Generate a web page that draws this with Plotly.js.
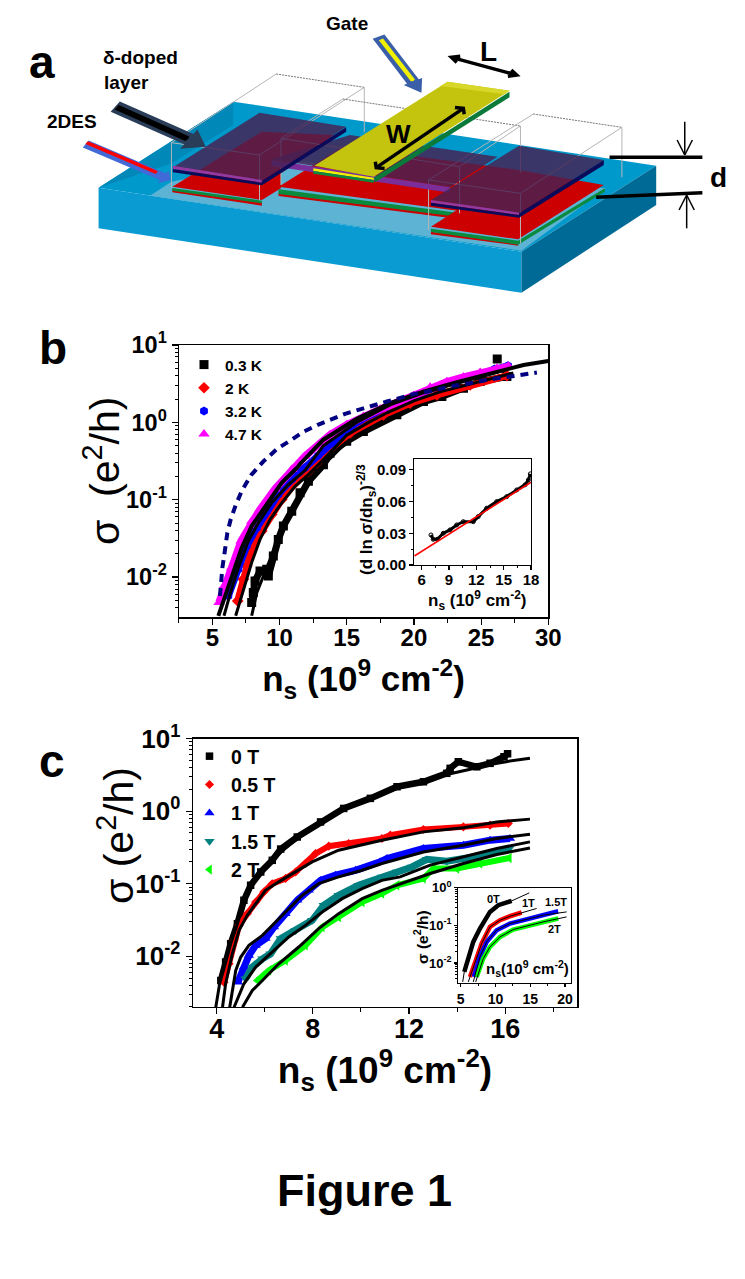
<!DOCTYPE html>
<html><head><meta charset="utf-8">
<script src="https://cdn.plot.ly/plotly-3.0.1.min.js"></script>
<style>html,body{margin:0;padding:0;background:#fff}</style></head>
<body><div id="chart" style="width:745px;height:1279px"></div>
<script>
/* ---------- panel b: temperature series ---------- */
const b03K_n=[7.93,8.05,8.18,8.55,9.05,9.17,9.54,9.91,10.29,10.91,11.53,12.15,13.27,13.76,15,16.24,18.73,20.71,22.08,23.69,24.93,26.92];
const b03K_s=[.00469,.0063,.0089,.012,.0126,.0103,.0187,.0307,.0456,.071,.123,.173,.284,.40,.57,.76,1.25,1.86,2.16,2.77,3.37,3.91];
const b03K_outlier_n=[26.2], b03K_outlier_s=[6.6];
const b2K_n=[6.89,7.31,7.56,7.93,8.68,9.42,10.17,11.16,12.15,12.77,13.27,14,15.26,17.73,19.72,21.71,24.19,26.92];
const b2K_s=[.00492,.00938,.0139,.0228,.0393,.0644,.1007,.165,.233,.298,.39,.5,.728,1.25,1.77,2.27,3.05,4.02];
const b32K_n=[6.19,6.94,7.56,8.31,9.05,9.91,10.91,11.9,12.89,14,15,16,17,18,20,22,24,26,27];
const b32K_s=[.0057,.0126,.0252,.0432,.071,.117,.182,.258,.372,.55,.80,1.06,1.31,1.6,2.2,3.0,3.8,4.9,5.4];
const b47K_n=[5.5,5.9,6.44,7.14,7.93,8.55,9.67,10.91,11.9,12.89,13.76,15,16.24,17.49,18.73,19.97,21.21,22.45,23.69,24.93,26.18,27.04];
const b47K_s=[.0047,.0077,.0132,.0292,.0528,.0748,.138,.245,.364,.514,.69,.93,1.19,1.48,1.8,2.2,2.85,3.35,3.85,4.4,5.0,5.3];
const bFit1_n=[5.45,5.95,6.44,7.19,7.93,8.92,10.16,11.4,11.53,13.27,15.75,18.23,20.7,23.2,26.9,28.16,30];
const bFit1_s=[.00316,.0057,.0103,.024,.0456,.0824,.165,.27,.29,.597,1.11,1.77,2.5,3.3,4.9,5.52,6.2];
const bFit2_n=[5.87,6.32,6.94,7.68,8.43,9.42,10.66,11.9,13.27,15.75,18.23,20.7,23.2,26.9];
const bFit2_s=[.00316,.006,.0132,.0292,.0503,.0912,.157,.24,.50,1.0,1.68,2.4,3.2,4.8];
const bFit3_n=[6.74,7.43,7.93,8.55,9.3,10.17,11.16,12.15,13.27,15,16.5,18,20,22,24,26,27.4];
const bFit3_s=[.00316,.00767,.0154,.0307,.0556,.0912,.149,.211,.33,.68,.97,1.33,1.9,2.5,3.05,3.7,4.35];
const bFit4_n=[7.93,8.31,9.3,10.17,11.16,12.15,13.27,15];
const bFit4_s=[.00316,.0063,.017,.0413,.0912,.17,.28,.56];
const bDash_n=[5.57,5.75,5.95,6.12,6.37,6.74,7.21,7.88,8.8,9.84,10.79,11.83,12.85,13.89,14.88,15.87,16.94,17.99,18.98,19.97,21.01,22.08,23.07,24.14,25.13,26.18,27.17,28.16,29.15];
const bDash_s=[.0057,.0132,.0228,.0374,.0556,.085,.132,.207,.313,.457,.58,.764,.93,1.11,1.29,1.45,1.67,1.86,2.07,2.32,2.5,2.77,2.99,3.2,3.47,3.72,3.91,4.19,4.4];
/* panel b inset */
const bIn_n=[7.02,7.27,7.71,8.37,9.11,9.84,10.57,11.67,12.21,13.13,14.23,15.33,16.43,17.34,17.71,17.93];
const bIn_v=[.0284,.0243,.0243,.03,.0332,.0379,.041,.041,.0458,.0537,.06,.0647,.071,.0758,.0805,.0862];
const bInFit_n=[5.19,7.5,9,10.5,12,13.5,15,16.5,18];
const bInFit_v=[.0085,.0211,.0293,.0375,.0456,.054,.062,.0702,.0783];
/* ---------- panel c: field series ---------- */
const c0T_n=[4.17,4.37,4.58,4.86,5.13,5.41,5.83,6.31,6.66,7.35,8.32,9.28,10.39,11.5,12.6,13.57,13.71,14.05,14.82,15.37,15.95,16.1];
const c0T_s=[.00463,.0083,.0149,.0281,.059,.095,.145,.21,.30,.44,.71,1.09,1.5,2.17,2.54,3.32,3.89,4.8,4.09,4.56,5.62,6.2];
const c0TFit_n=[3.96,4.12,4.37,4.58,4.86,5.13,5.41,5.83,6.31,6.66,7.35,8.32,9.28,10.39,11.5,12.6,13.57,14.5,15.37,16.1,17.03];
const c0TFit_s=[.00198,.00417,.0082,.0148,.028,.056,.092,.147,.205,.27,.42,.69,1.04,1.48,2.07,2.6,3.2,3.75,4.4,4.85,5.35];
const c05T_n=[4.3,4.51,4.72,4.93,5.27,5.62,5.96,6.31,6.86,7.28,7.69,8.11,8.66,9.49,10.87,11.22,12.6,14.26,15.37,16.13];
const c05T_s=[.00439,.00787,.0165,.0266,.0386,.0559,.0768,.1,.118,.145,.19,.26,.329,.358,.42,.467,.559,.607,.641,.676];
const c05TFit_n=[4.24,4.37,4.65,4.93,5.27,5.62,6.03,6.58,7.28,7.97,9.07,10.87,12.6,14.26,15.65,17.03];
const c05TFit_s=[.00198,.00417,.0108,.0227,.0366,.0531,.081,.106,.145,.2,.289,.398,.518,.59,.71,.776];
const c1T_n=[4.88,5.13,5.34,5.62,6.03,6.38,6.86,7.35,7.83,8.32,8.94,9.77,10.8,11.08,12.6,14.26,15.37,16.2];
const c1T_s=[.00439,.00708,.01026,.0141,.0175,.0252,.0386,.059,.081,.111,.131,.153,.2,.222,.305,.339,.398,.42];
const c1TFit_n=[4.54,4.79,5,5.34,5.9,6.45,7,7.56,8.24,9.07,10.05,10.87,12.6,14.26,15.65,17.03];
const c1TFit_s=[.00198,.00637,.00973,.0141,.0194,.0296,.0453,.0692,.1,.124,.153,.19,.274,.339,.42,.481];
const c15T_n=[5.2,5.48,5.9,6.24,6.66,7.28,7.97,8.45,9.07,9.9,10.87,11.5,12.12,12.74,13.57,14.68,15.51,16.17];
const c15T_s=[.00489,.00708,.00923,.0108,.0175,.0227,.0313,.0503,.0692,.095,.124,.145,.17,.217,.204,.234,.269,.305];
const c15TFit_n=[4.72,5.13,5.62,6.31,7,7.69,8.39,9.22,10.05,10.87,11.63,12.88,14.26,15.65,17.03];
const c15TFit_s=[.00198,.00417,.00708,.0114,.0184,.0266,.0406,.0622,.0855,.111,.124,.18,.234,.305,.377];
const c2T_n=[5.69,6.17,6.86,7.69,8.39,9.07,10.05,10.87,11.5,12.6,13.02,13.99,14.95,16.17];
const c2T_s=[.00463,.00637,.00875,.0141,.0252,.0347,.0559,.073,.095,.118,.162,.162,.19,.226];
const c2TFit_n=[5.07,5.48,5.9,6.58,7.41,8.24,9.07,10.05,10.87,11.63,12.88,14.26,15.65,17.03];
const c2TFit_s=[.00198,.00337,.00463,.00787,.0134,.024,.0386,.0622,.081,.1,.138,.19,.252,.311];
/* panel c inset */
const cI0_n=[5.52,6.09,6.81,7.77,9.21,10.4,12.33];
const cI0_s=[.00585,.0132,.0365,.0828,.228,.344,.447];
const cI0Fit_n=[5.29,5.52,6.09,6.81,7.77,9.21,10.4,12.33,14.86];
const cI0Fit_s=[.00316,.00585,.0132,.0365,.0828,.228,.344,.447,.728];
const cI1_n=[6.34,7.05,8.02,9.21,10.65,12.08,13.77];
const cI1_s=[.0043,.0108,.0331,.0912,.137,.175,.22];
const cI1Fit_n=[6.09,6.34,7.05,8.02,9.21,10.65,12.08,13.77,15.92];
const cI1Fit_s=[.00316,.0043,.0108,.0331,.0912,.137,.175,.22,.281];
const cI15_n=[6.9,7.77,8.74,10.17,12.08,14.48,16.87,19.02];
const cI15_s=[.0043,.0146,.0365,.0746,.112,.143,.187,.238];
const cI15Fit_n=[6.81,7.77,8.74,10.17,12.08,14.48,16.87,20.23];
const cI15Fit_s=[.00316,.0146,.0365,.0746,.112,.143,.187,.228];
const cI2_n=[7.3,8.25,9.21,10.65,12.56,14.48,16.87,19.02];
const cI2_s=[.0043,.0132,.0269,.0495,.0778,.0953,.124,.152];
const cI2Fit_n=[7.16,8.25,9.21,10.65,12.56,14.48,16.87,20.23];
const cI2Fit_s=[.00316,.0132,.0269,.0495,.0778,.0953,.124,.168];
/* ticks and labels */
const decLabel={0.01:'10<sup>-2</sup>',0.1:'10<sup>-1</sup>',1:'10<sup>0</sup>',10:'10<sup>1</sup>'};
const bXticks=[5,10,15,20,25,30], bXminor=[2.5,7.5,12.5,17.5,22.5,27.5];
const bInXticks=[6,9,12,15,18], bInYticks=[0,.03,.06,.09], bInYlabels=['0.00','0.03','0.06','0.09'];
const cXticks=[4,8,12,16], cXminor=[6,10,14,18];
const cInXticks=[5,10,15,20], cInXminor=[7.5,12.5,17.5];

const W=745,H=1279;
const fx=p=>p/W, fy=p=>1-p/H;
const FONT='"Liberation Sans", Arial, sans-serif';
const logMinor=(lo,hi)=>{const o=[];for(let e=-3;e<1;e++)for(let m=2;m<10;m++){const v=m*Math.pow(10,e);if(v>=lo&&v<=hi)o.push(v);}return o;};

const traces=[];
function series(name,xs,ys,color,symbol,size,band,xa,ya,lg,extraX,extraY){
  traces.push({x:xs,y:ys,xaxis:xa,yaxis:ya,mode:'lines',line:{color:color,width:band},showlegend:false,hoverinfo:'skip'});
  traces.push({x:xs.concat(extraX||[]),y:ys.concat(extraY||[]),xaxis:xa,yaxis:ya,mode:'markers',name:name,legend:lg,legendgroup:lg+name,
    marker:{color:color,symbol:symbol,size:size},showlegend:!!lg});
}
function fit(xs,ys,xa,ya,w,color){
  traces.push({x:xs,y:ys,xaxis:xa,yaxis:ya,mode:'lines',line:{color:color||'#000',width:w},showlegend:false,hoverinfo:'skip'});
}
/* panel b */
series('0.3 K',b03K_n,b03K_s,'#000','square',9,7,'x','y','legend',b03K_outlier_n,b03K_outlier_s);
series('2 K',b2K_n,b2K_s,'#ff0000','diamond',9,7,'x','y','legend');
series('3.2 K',b32K_n,b32K_s,'#0000ff','hexagon',9,7,'x','y','legend');
series('4.7 K',b47K_n,b47K_s,'#ff00ff','triangle-up',10,7.5,'x','y','legend');
fit(bFit4_n,bFit4_s,'x','y',3);
fit(bFit3_n,bFit3_s,'x','y',3);
fit(bFit2_n,bFit2_s,'x','y',3);
fit(bFit1_n,bFit1_s,'x','y',4);
traces.push({x:bDash_n,y:bDash_s,xaxis:'x',yaxis:'y',mode:'lines',line:{color:'#000080',width:4,dash:'8px,6px'},showlegend:false});
/* panel b inset */
traces.push({x:bIn_n,y:bIn_v,xaxis:'x2',yaxis:'y2',mode:'lines+markers',line:{color:'#000',width:3},marker:{symbol:'circle-open',color:'#000',size:4},showlegend:false});
traces.push({x:bInFit_n,y:bInFit_v,xaxis:'x2',yaxis:'y2',mode:'lines',line:{color:'#ff0000',width:1.6},showlegend:false});
/* panel c */
series('0 T',c0T_n,c0T_s,'#000','square',7.5,6.5,'x3','y3','legend2');
series('0.5 T',c05T_n,c05T_s,'#ff0000','diamond',7,6,'x3','y3','legend2');
series('1 T',c1T_n,c1T_s,'#0000ff','triangle-up',9,7,'x3','y3','legend2');
series('1.5 T',c15T_n,c15T_s,'#008080','triangle-down',9,7,'x3','y3','legend2');
series('2 T',c2T_n,c2T_s,'#00ff00','triangle-left',9,6,'x3','y3','legend2');
fit(c0TFit_n,c0TFit_s,'x3','y3',3);fit(c05TFit_n,c05TFit_s,'x3','y3',3);fit(c1TFit_n,c1TFit_s,'x3','y3',3);fit(c15TFit_n,c15TFit_s,'x3','y3',3);fit(c2TFit_n,c2TFit_s,'x3','y3',3);
/* panel c inset */
[[cI0_n,cI0_s,'#000'],[cI1_n,cI1_s,'#ff0000'],[cI15_n,cI15_s,'#0000ff'],[cI2_n,cI2_s,'#00ff00']].forEach(a=>{
  traces.push({x:a[0],y:a[1],xaxis:'x4',yaxis:'y4',mode:'lines',line:{color:a[2],width:4.5},showlegend:false});
});
fit(cI0Fit_n,cI0Fit_s,'x4','y4',1);fit(cI1Fit_n,cI1Fit_s,'x4','y4',1);fit(cI15Fit_n,cI15Fit_s,'x4','y4',1);fit(cI2Fit_n,cI2Fit_s,'x4','y4',1);
traces.push({x:[],y:[],xaxis:'x5',yaxis:'y5',showlegend:false});

function axis(dom,anchor,o){
  return Object.assign({domain:dom,anchor:anchor,showline:true,mirror:true,linecolor:'#000',linewidth:1.2,showgrid:false,zeroline:false,
    ticks:'outside',ticklen:6,tickwidth:1.2,tickcolor:'#000',tickmode:'array',tickangle:0},o);
}
function minor(vals,len){return {tickmode:'array',tickvals:vals,ticks:'outside',ticklen:len,tickwidth:1,tickcolor:'#000',showgrid:false};}
const dec=[0.01,0.1,1,10], decTxt=dec.map(v=>decLabel[v]);
const xT=t=>t.map(String);

/* schematic (panel a) drawn in its own hidden axes */
const poly=(pts,fill,opts)=>Object.assign({type:'path',xref:'x5',yref:'y5',path:'M'+pts.map(p=>p.join(',')).join('L')+'Z',fillcolor:fill,line:{width:0}},opts||{});
const seg=(a,b,color,w,dash)=>({type:'line',xref:'x5',yref:'y5',x0:a[0],y0:a[1],x1:b[0],y1:b[1],line:{color:color,width:w,dash:dash||'solid'}});
const PUR='rgba(71,34,83,0.83)', GR='#b5b5b5';
function box(x0,y0,x1,y1,x2,y2,x3,y3,h){
  return [seg([x0,y0],[x1,y1],GR,1),seg([x1,y1],[x2,y2],'#777',1,'2px,1px'),seg([x2,y2],[x3,y3],GR,1),seg([x3,y3],[x0,y0],GR,1),
    seg([x0,y0],[x0,y0+h],GR,1),seg([x3,y3],[x3,y3+h],GR,1),seg([x2,y2],[x2,y2+h],GR,1)];
}
function arrow(a,b,w,hw,hl,c){
  const dx=b[0]-a[0],dy=b[1]-a[1],L=Math.hypot(dx,dy),ux=dx/L,uy=dy/L,nx=-uy,ny=ux,
    s=[b[0]-ux*hl,b[1]-uy*hl];
  return poly([[a[0]+nx*w,a[1]+ny*w],[s[0]+nx*w,s[1]+ny*w],[s[0]+nx*hw,s[1]+ny*hw],b,[s[0]-nx*hw,s[1]-ny*hw],[s[0]-nx*w,s[1]-ny*w],[a[0]-nx*w,a[1]-ny*w]],c);
}
function dbl(a,b,lw,hw,hl){
  const dx=b[0]-a[0],dy=b[1]-a[1],L=Math.hypot(dx,dy),ux=dx/L,uy=dy/L,nx=-uy,ny=ux;
  const chev=(p,sx)=>({type:'path',xref:'x5',yref:'y5',path:`M${p[0]-sx*ux*hl+nx*hw},${p[1]-sx*uy*hl+ny*hw}L${p[0]},${p[1]}L${p[0]-sx*ux*hl-nx*hw},${p[1]-sx*uy*hl-ny*hw}`,line:{color:'#000',width:lw}});
  return [seg(a,b,'#000',lw),chev(b,1),chev(a,-1)];
}
const shapes=[
 /* substrate */
 poly([[207,563],[490,305],[1378,497],[1095,755]],'#0099cc'),
 poly([[207,563],[1095,755],[1095,878],[207,685]],'#0a9bd2'),
 poly([[1095,755],[1378,497],[1378,615],[1095,878]],'#006a96'),
 poly([[490,305],[490,375],[360,490],[207,563]],'#0088b8'),
 poly([[315,587],[1095,752],[1272,565],[590,480],[360,545]],'#5cb3d4'),
 /* left mesa */
 poly([[362,568],[550,608],[550,617],[362,577]],'#cc0000'),
 poly([[362,564],[550,602],[550,610],[362,572]],'#0a8a3c'),
 poly([[362,560],[550,395],[700,405],[590,520],[590,565],[550,600]],'#cc0000'),
 /* central mesa */
 poly([[585,578],[950,645],[950,655],[585,588]],'#cc0000'),
 poly([[585,568],[960,638],[960,650],[585,582]],'#0a8a3c'),
 poly([[585,560],[960,632],[1090,510],[720,440]],'#cc0000'),
 /* right mesa */
 poly([[905,695],[1088,728],[1088,737],[905,703]],'#cc0000'),
 poly([[905,686],[1088,722],[1270,565],[1270,575],[1088,734],[905,696]],'#0a8a3c'),
 poly([[905,680],[1088,718],[1268,555],[1090,510]],'#cc0000'),
 /* wire frames */
 ...box(360,428,580,222,765,262,545,465,135),
 ...box(590,415,720,297,1093,378,965,500,140),
 ...box(900,540,1120,342,1306,382,1093,580,150),
 /* centre dielectric */
 poly([[570,478],[945,562],[1045,470],[735,405]],PUR),
 poly([[570,480],[945,562],[945,578],[570,498]],'#7a2e9a'),
 /* left gate */
 poly([[365,500],[545,338],[727,380],[550,542]],PUR),
 poly([[363,497],[550,540],[550,548],[363,507]],'#93399f'),
 poly([[363,507],[550,548],[550,556],[363,517]],'#0b0b5a'),
 poly([[550,542],[727,382],[727,395],[550,556]],'#0b0b5a'),
 /* right gate */
 poly([[905,600],[1090,437],[1268,480],[1090,640]],PUR),
 poly([[905,600],[1090,638],[1090,645],[905,608]],'#93399f'),
 poly([[905,608],[1090,645],[1090,653],[905,617]],'#0b0b5a'),
 poly([[1090,640],[1268,480],[1268,495],[1090,653]],'#0b0b5a'),
 /* yellow top gate */
 poly([[660,497],[940,245],[1070,272],[785,530]],'#c4c40e'),
 poly([[940,245],[1070,272],[1060,283],[925,258]],'#d8d82a'),
 poly([[658,505],[785,533],[785,540],[658,513]],'#f0f000'),
 poly([[658,513],[785,540],[785,548],[658,521]],'#0a8a3c'),
 poly([[785,533],[1070,275],[1070,292],[788,547]],'#0a7a3a'),
 /* pointer arrows */
 arrow([795,110],[885,278],14,22,38,'#3a5fa8'),
 arrow([800,118],[868,243],5,5,2,'#f0f000'),
 arrow([242,320],[432,440],18,34,42,'#2a3d58'),
 arrow([245,322],[395,417],8,8,2,'#000000'),
 arrow([180,432],[358,540],12,22,18,'#4169d8'),
 arrow([182,428],[330,518],5,5,2,'#ff0000'),
 /* dimension arrows */
 ...dbl([948,172],[1085,225],3.5,10,16),
 ...dbl([790,503],[973,325],3.5,14,11),
 seg([1280,472],[1475,472],'#000',3.5),
 seg([1252,592],[1475,578],'#000',3.5),
 seg([1438,365],[1438,463],'#000',1.5),
 ...[[1438,465,1422,420],[1438,465,1454,420]].map(a=>seg([a[0],a[1]],[a[2],a[3]],'#000',1.5)),
 seg([1442,685],[1442,587],'#000',1.5),
 ...[[1442,585,1426,630],[1442,585,1458,630]].map(a=>seg([a[0],a[1]],[a[2],a[3]],'#000',1.5))
];

function ann(text,x,y,size,o){return Object.assign({text:text,xref:'paper',yref:'paper',x:fx(x),y:fy(y),showarrow:false,xanchor:'center',yanchor:'middle',
   font:{family:FONT,size:size,color:'#000'}},o||{});}
function bold(a){a.font=Object.assign(a.font,{weight:700});return a;}
const annotations=[
 bold(ann('a',42,62,46)),bold(ann('b',53,348,46)),bold(ann('c',52,761,46)),
 bold(ann('Gate',347,23,19)),bold(ann('δ-doped',140,57,19)),bold(ann('layer',126,82,19)),bold(ann('2DES',72,121,19)),
 bold(ann('L',488,52,28)),bold(ann('W',398,134,26)),bold(ann('d',718,177,28)),
 ann('σ  (e<sup>2</sup>/h)',102,471,41,{textangle:-90}),
 ann('σ (e<sup>2</sup>/h)',116,836,41,{textangle:-90}),
 bold(ann('(d ln σ/dn<sub>s</sub>)<sup>-2/3</sup>',366,520,17,{textangle:-90})),
 bold(ann('n<sub>s</sub> (10<sup>9</sup> cm<sup>-2</sup>)',477,600,17)),
 bold(ann('σ (e<sup>2</sup>/h)',421,937,15.5,{textangle:-90})),
 bold(ann('n<sub>s</sub>(10<sup>9</sup> cm<sup>-2</sup>)',527,968,15)),
 bold(ann('0T',493,899,11)),bold(ann('1T',528,903,11)),bold(ann('1.5T',556,902,11)),bold(ann('2T',554,929,11)),
 bold(ann('Figure 1',364,1190,45))
];

const tfB=(s)=>({family:FONT,size:s,color:'#000',weight:700});
const layout={
 width:W,height:H,margin:{l:0,r:0,t:0,b:0},paper_bgcolor:'#fff',plot_bgcolor:'rgba(0,0,0,0)',showlegend:true,
 font:{family:FONT,color:'#000'},
 xaxis:axis([fx(178.7),fx(548.3)],'y',{type:'linear',range:[2.5,30],tickvals:bXticks,ticktext:xT(bXticks),tickfont:tfB(24),ticklabelstandoff:-7,minor:minor(bXminor,4),
   title:{text:'n<sub>s</sub> (10<sup>9</sup> cm<sup>-2</sup>)',font:tfB(35),standoff:16}}),
 yaxis:axis([fy(617.3),fy(345)],'x',{type:'log',range:[-2.52,1],tickvals:dec,ticktext:decTxt,tickfont:tfB(23.5),minor:minor(logMinor(.003,10),3)}),
 xaxis2:axis([fx(414.3),fx(531)],'y2',{type:'linear',range:[5.19,18],tickvals:bInXticks,ticktext:xT(bInXticks),tickfont:tfB(15),ticklen:4,ticklabelstandoff:-3,minor:minor([7.5,10.5,13.5,16.5],2)}),
 yaxis2:axis([fy(565),fy(459.3)],'x2',{type:'linear',range:[0,.1],tickvals:bInYticks,ticktext:bInYlabels,tickfont:tfB(15),ticklen:4,minor:minor([.015,.045,.075],2)}),
 xaxis3:axis([fx(192.7),fx(577.3)],'y3',{type:'linear',range:[3,19],tickvals:cXticks,ticktext:xT(cXticks),tickfont:tfB(27),ticklabelstandoff:-9,minor:minor(cXminor,4),
   title:{text:'n<sub>s</sub> (10<sup>9</sup> cm<sup>-2</sup>)',font:tfB(37),standoff:14}}),
 yaxis3:axis([fy(1007),fy(738.6)],'x3',{type:'log',range:[-2.70,1],tickvals:dec,ticktext:decTxt,tickfont:tfB(26),minor:minor(logMinor(.002,10),3)}),
 xaxis4:axis([fx(458.3),fx(571)],'y4',{type:'linear',range:[4.66,20.86],tickvals:cInXticks,ticktext:xT(cInXticks),tickfont:tfB(14),ticklen:3,minor:minor(cInXminor,2)}),
 yaxis4:axis([fy(982.7),fy(887.7)],'x4',{type:'log',range:[-2.52,0],tickvals:[.01,.1,1],ticktext:decTxt.slice(0,3),tickfont:tfB(13),ticklen:3,minor:minor(logMinor(.003,1),2)}),
 xaxis5:{domain:[0,1],anchor:'y5',range:[0,1564.5],visible:false,fixedrange:true},
 yaxis5:{domain:[fy(310),1],anchor:'x5',range:[930,0],visible:false,fixedrange:true},
 legend:{x:fx(183),y:fy(348),xanchor:'left',yanchor:'top',bgcolor:'rgba(0,0,0,0)',font:{family:FONT,size:15.5,color:'#000',weight:700},tracegroupgap:0,itemwidth:32},
 legend2:{x:fx(188),y:fy(737),xanchor:'left',yanchor:'top',bgcolor:'rgba(0,0,0,0)',font:{family:FONT,size:19.5,color:'#000',weight:700},tracegroupgap:0,itemwidth:33},
 shapes:shapes,annotations:annotations
};
Plotly.newPlot('chart',traces,layout,{displayModeBar:false,staticPlot:true});
</script></body></html>
